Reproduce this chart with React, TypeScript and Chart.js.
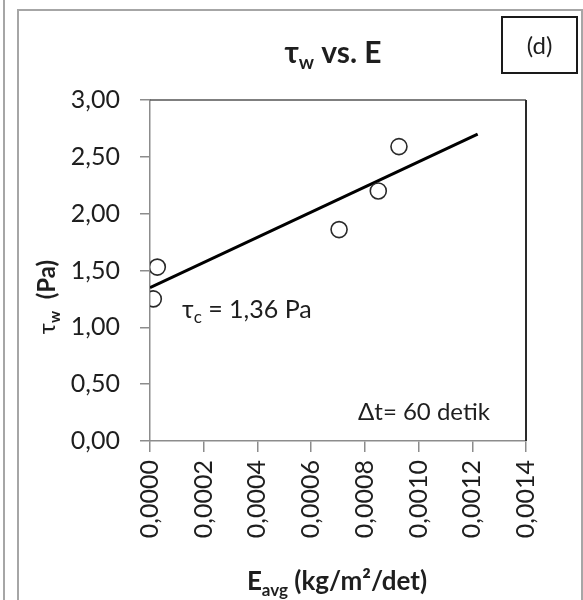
import React, { useEffect, useRef } from "react";
import { Chart, registerables } from "chart.js";

Chart.register(...registerables);

// ---- data ----
const eAvg = [0.0000123, 0.0000272, 0.000704, 0.00085, 0.000927];
const tauW = [1.25, 1.53, 1.86, 2.2, 2.59];
const trendE = [0, 0.00122];
const trendTau = [1.35, 2.7];
const xMin = 0;
const xMax = 0.0014;
const xStep = 0.0002;
const yMin = 0;
const yMax = 3;
const yStep = 0.5;
const titleParts = ["τ", "w", " vs. E"];
const xTitleParts = ["E", "avg", " (kg/m²/det)"];
const yTitleParts = ["τ", "w", "  (Pa)"];
const tcParts = ["τ", "c", " = 1,36 Pa"];
const dtLabel = "Δt= 60 detik";
const panelLabel = "(d)";

const FONT = "Lato, 'Open Sans', sans-serif";
const TEXT = "#1e1e1e";

type Seg = { t: string; size: number; bold?: boolean; dy?: number };

function drawRich(ctx: CanvasRenderingContext2D, segs: Seg[], x: number, y: number, align: "left" | "center") {
  ctx.save();
  ctx.textBaseline = "alphabetic";
  ctx.textAlign = "left";
  let total = 0;
  const widths = segs.map((s) => {
    ctx.font = `${s.bold ? "bold " : ""}${s.size}px ${FONT}`;
    const w = ctx.measureText(s.t).width;
    total += w;
    return w;
  });
  let cx = align === "center" ? x - total / 2 : x;
  segs.forEach((s, i) => {
    ctx.font = `${s.bold ? "bold " : ""}${s.size}px ${FONT}`;
    ctx.fillStyle = TEXT;
    ctx.fillText(s.t, cx, y + (s.dy || 0));
    cx += widths[i];
  });
  ctx.restore();
}

const decorPlugin = {
  id: "decor",
  afterDraw(chart: any) {
    const ctx: CanvasRenderingContext2D = chart.ctx;
    const area = chart.chartArea;
    ctx.save();
    // neighbouring panel edge and outer frame
    ctx.strokeStyle = "#a6a6a6";
    ctx.lineWidth = 2;
    ctx.beginPath();
    ctx.moveTo(4, 0);
    ctx.lineTo(4, 600);
    ctx.stroke();
    ctx.strokeRect(18, 10, 564, 600);
    // plot top/right border
    ctx.strokeStyle = "#555";
    ctx.lineWidth = 1.5;
    ctx.beginPath();
    ctx.moveTo(area.left, area.top);
    ctx.lineTo(area.right, area.top);
    ctx.stroke();
    ctx.strokeStyle = "#2a2a2a";
    ctx.lineWidth = 2;
    ctx.beginPath();
    ctx.moveTo(area.right, area.top);
    ctx.lineTo(area.right, area.bottom);
    ctx.stroke();
    // panel label box
    ctx.strokeStyle = "#1a1a1a";
    ctx.lineWidth = 2;
    ctx.strokeRect(502, 17, 75, 56);
    ctx.font = `24px ${FONT}`;
    ctx.fillStyle = TEXT;
    ctx.textAlign = "center";
    ctx.textBaseline = "middle";
    ctx.fillText(panelLabel, 539.5, 46);
    ctx.restore();

    // title
    drawRich(
      ctx,
      [
        { t: titleParts[0], size: 30, bold: true },
        { t: titleParts[1], size: 19, bold: true, dy: 6 },
        { t: titleParts[2], size: 30, bold: true },
      ],
      333,
      63,
      "center"
    );
    // x title
    drawRich(
      ctx,
      [
        { t: xTitleParts[0], size: 26, bold: true },
        { t: xTitleParts[1], size: 17, bold: true, dy: 6 },
        { t: xTitleParts[2], size: 26, bold: true },
      ],
      337,
      590,
      "center"
    );
    // y title (rotated)
    ctx.save();
    ctx.translate(55, 297);
    ctx.rotate(-Math.PI / 2);
    drawRich(
      ctx,
      [
        { t: yTitleParts[0], size: 24, bold: false },
        { t: yTitleParts[1], size: 15, bold: true, dy: 5 },
        { t: yTitleParts[2], size: 24, bold: true },
      ],
      0,
      0,
      "center"
    );
    ctx.restore();
    // annotations
    drawRich(
      ctx,
      [
        { t: tcParts[0], size: 25 },
        { t: tcParts[1], size: 17, dy: 5 },
        { t: tcParts[2], size: 25 },
      ],
      182,
      318,
      "left"
    );
    drawRich(ctx, [{ t: dtLabel, size: 24 }], 358, 420, "left");
  },
};

export default function App() {
  const ref = useRef<HTMLCanvasElement | null>(null);
  useEffect(() => {
    if (!ref.current) return;
    const axisGray = "#8c8c8c";
    const chart = new Chart(ref.current, {
      type: "scatter",
      data: {
        datasets: [
          {
            label: "trend",
            data: trendE.map((x, i) => ({ x, y: trendTau[i] })),
            showLine: true,
            borderColor: "#000",
            borderWidth: 3,
            pointRadius: 0,
            order: 2,
          },
          {
            label: "data",
            data: eAvg.map((x, i) => ({ x, y: tauW[i] })),
            showLine: false,
            pointRadius: 8,
            pointBorderWidth: 1.6,
            pointBorderColor: "#2a2a2a",
            pointBackgroundColor: "rgba(255,255,255,0)",
            order: 1,
          },
        ],
      },
      options: {
        animation: false,
        responsive: false,
        devicePixelRatio: 1,
        layout: { padding: { top: 100, right: 57, left: 0, bottom: 0 } },
        plugins: { legend: { display: false }, tooltip: { enabled: false }, title: { display: false } },
        scales: {
          x: {
            type: "linear",
            min: xMin,
            max: xMax,
            afterFit: (s: any) => {
              s.height = 159;
            },
            ticks: {
              stepSize: xStep,
              minRotation: 90,
              maxRotation: 90,
              padding: 8,
              color: TEXT,
              font: { family: FONT, size: 25 },
              callback: (v: any) => Number(v).toFixed(4).replace(".", ","),
            },
            grid: { drawOnChartArea: false, drawTicks: true, tickLength: 11, color: axisGray, lineWidth: 1.5 },
            border: { display: true, color: axisGray, width: 1.5 },
          },
          y: {
            min: yMin,
            max: yMax,
            afterFit: (s: any) => {
              s.width = 150;
            },
            ticks: {
              stepSize: yStep,
              padding: 20,
              color: TEXT,
              font: { family: FONT, size: 25 },
              callback: (v: any) => Number(v).toFixed(2).replace(".", ","),
            },
            grid: { drawOnChartArea: false, drawTicks: true, tickLength: 10, color: axisGray, lineWidth: 1.5 },
            border: { display: true, color: axisGray, width: 1.5 },
          },
        },
      },
      plugins: [decorPlugin],
    } as any);
    return () => chart.destroy();
  }, []);
  return (
    <div style={{ position: "fixed", left: 0, top: 0, width: 583, height: 600, background: "#fff" }}>
      <canvas ref={ref} width={583} height={600} style={{ display: "block" }} />
    </div>
  );
}
